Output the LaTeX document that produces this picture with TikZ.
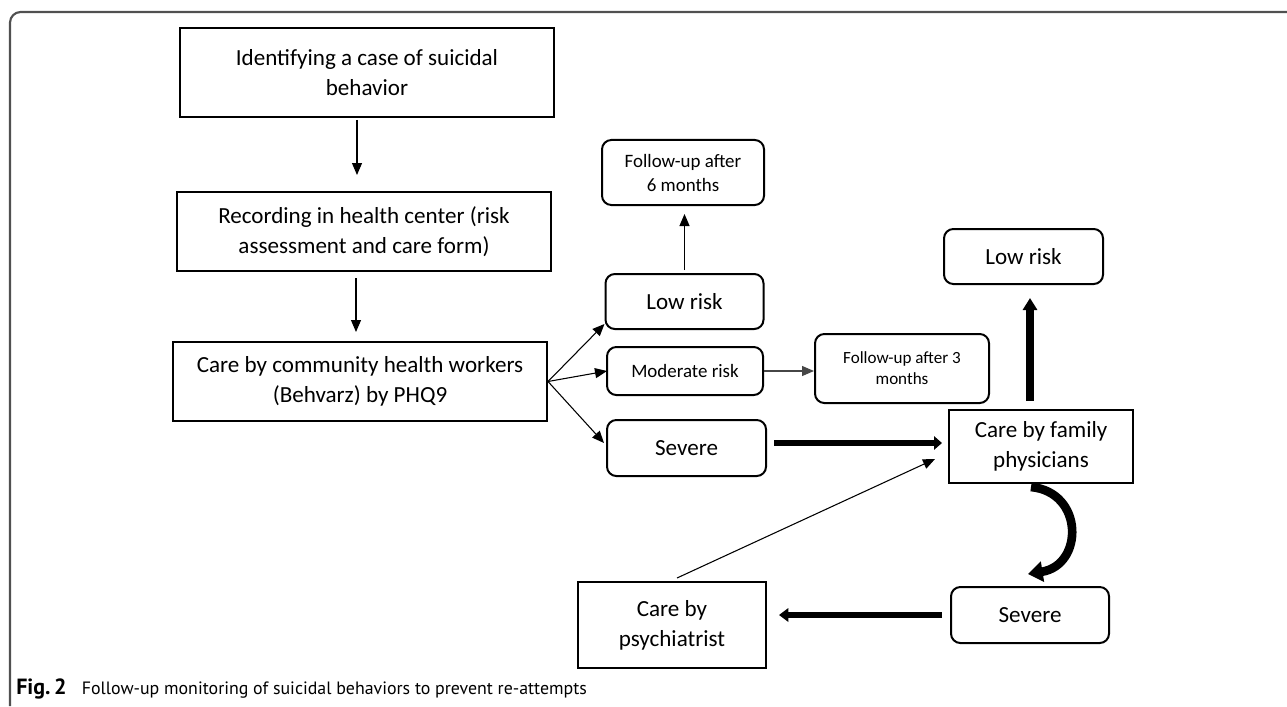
\documentclass[tikz,border=0pt]{standalone}
\usepackage{fontspec}
\setmainfont{Carlito}
\newfontfamily\capfont{PT Sans}
\usetikzlibrary{arrows.meta,calc}
\newdimen\pxu
\pxu=0.75pt
\definecolor{framegray}{RGB}{80,80,80}
\definecolor{arrgray}{RGB}{70,70,70}
\tikzset{
  sqbox/.style={draw=black, line width=1.5pt, align=center, inner sep=0pt,
    font=\fontsize{17.3}{22.5}\selectfont},
  rbox/.style={draw=black, line width=1.5pt, rounded corners=7pt, align=center, inner sep=0pt,
    font=\fontsize{17.3}{22.5}\selectfont},
  midtext/.style={font=\fontsize{14.2}{18}\selectfont},
  smalltext/.style={font=\fontsize{12.8}{15.75}\selectfont},
  thinarrow/.style={line width=0.8pt, -{Triangle[length=9pt,width=7.5pt]}},
  thickarrow/.style={line width=5.2pt, -{Triangle[length=6pt,width=10pt]}},
}
\begin{document}
\begin{tikzpicture}[x=0.75pt,y=-0.75pt]
\useasboundingbox (0,0) rectangle (1287,706);
% frame
\draw[framegray, line width=1.6pt, rounded corners=8pt] (10,706) -- (10,12) -- (1290,12);
% nodes
\node[sqbox, minimum width=374\pxu, minimum height=89\pxu] (b1) at (367,72.5) {Identifying a case of suicidal\\behavior};
\node[sqbox, minimum width=374\pxu, minimum height=79\pxu] (b2) at (364,231.5) {Recording in health center (risk\\assessment and care form)};
\node[sqbox, minimum width=374\pxu, minimum height=79\pxu] (b3) at (360,381.5) {Care by community health workers\\(Behvarz) by PHQ9};
\node[rbox, minimum width=158\pxu, minimum height=55\pxu] (low1) at (684.5,301.5) {Low risk};
\node[rbox, midtext, minimum width=162\pxu, minimum height=65\pxu] (fu6) at (683,172.5) {Follow-up after\\6 months};
\node[rbox, midtext, minimum width=156\pxu, minimum height=48\pxu] (mod) at (685,371) {Moderate risk};
\node[rbox, smalltext, minimum width=174\pxu, minimum height=69\pxu] (fu3) at (902,368.5) {Follow-up after 3\\months};
\node[rbox, minimum width=159\pxu, minimum height=56\pxu] (sev1) at (686.5,448) {Severe};
\node[rbox, minimum width=159\pxu, minimum height=55\pxu] (low2) at (1023.5,256.5) {Low risk};
\node[sqbox, minimum width=184\pxu, minimum height=73\pxu] (fam) at (1041,446.5) {Care by family\\physicians};
\node[rbox, minimum width=158\pxu, minimum height=56\pxu] (sev2) at (1030,615) {Severe};
\node[sqbox, minimum width=188\pxu, minimum height=86\pxu] (psy) at (672,625) {Care by\\psychiatrist};
% connectors
\draw[thinarrow] ($(b1.south)+(-10,2)$) -- ($(b2.north)+(-7,-16)$);
\draw[thinarrow] ($(b2.south)+(-8,6)$) -- ($(b3.north)+(-4,-9)$);
\draw[thinarrow] (b3.east) -- ($(low1.south west)+(0,-6)$);
\draw[thinarrow] (b3.east) -- ($(mod.west)+(1,0)$);
\draw[thinarrow] (b3.east) -- ($(sev1.west)+(-2,-5)$);
\draw[thinarrow] ($(low1.north)+(0,-3)$) -- ($(fu6.south)+(1.5,8)$);
\draw[thinarrow, arrgray] (mod.east) -- (mod.east -| fu3.west);
\draw[thinarrow] ($(psy.north)+(5,-3)$) -- ($(fam.west)+(-13,12.5)$);
\draw[thickarrow] ($(sev1.east)+(7,-5)$) -- ($(fam.west)+(-6,-3.5)$);
\draw[line width=6pt, -{Triangle[length=9pt,width=10.5pt]}] ($(low2.south)+(6.5,116)$) -- ($(low2.south)+(6.5,13)$);
\draw[line width=6.5pt, -{Triangle[length=11pt,width=15pt]}] ($(fam.south)+(-10,3)$) .. controls (1084,492) and (1084,565) .. ($(sev2.north)+(-2,-12)$);
\draw[thickarrow, -{Triangle[length=7pt,width=10pt]}] ($(sev2.west)+(-8,0)$) -- ($(psy.east |- sev2.west)+(12,0)$);
% caption
\node[anchor=base west, inner sep=0pt, font=\capfont\fontsize{13.4}{16}\selectfont] (cap) at (16,694) {\textbf{\fontsize{16.5}{16}\selectfont Fig.\,2}\hspace{0.85em}Follow-up monitoring of suicidal behaviors to prevent re-attempts};
\end{tikzpicture}
\end{document}
